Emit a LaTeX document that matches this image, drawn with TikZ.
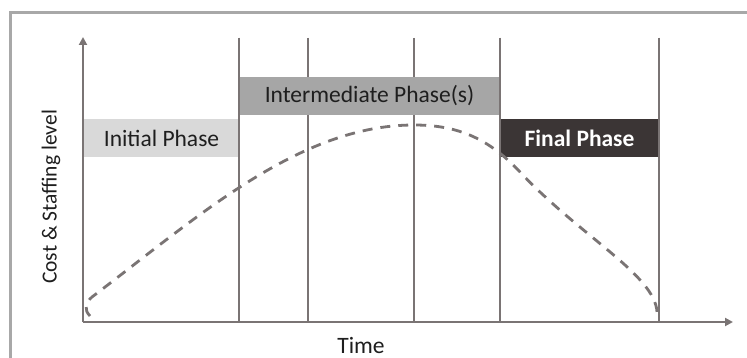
\documentclass[tikz,border=0pt]{standalone}
\usepackage{fontspec}
\setmainfont{Carlito}
\usetikzlibrary{arrows.meta}
\definecolor{axisgray}{HTML}{7A7474}
\definecolor{framegray}{HTML}{A8A8A8}
\definecolor{initfill}{HTML}{D9D9D9}
\definecolor{midfill}{HTML}{A6A6A6}
\definecolor{finalfill}{HTML}{3B3535}
\definecolor{labeltext}{HTML}{1E1E1E}
\begin{document}
\begin{tikzpicture}[x=1pt,y=-1pt,
  labelfont/.style={font=\fontsize{23.5pt}{26pt}\selectfont},
  frameline/.style={draw=framegray,line width=3pt},
  phaseline/.style={draw=axisgray,line width=2.9pt},
  axisline/.style={draw=axisgray,line width=2.9pt,-{Triangle[length=8pt,width=8pt]}},
  phasebox/.style={labelfont,minimum height=38pt,inner sep=0pt,anchor=center,text=labeltext},
  effortcurve/.style={draw=axisgray,line width=2.8pt,dash pattern=on 10pt off 8pt}]
\useasboundingbox (0,0) rectangle (747,358);
\fill[white] (0,0) rectangle (747,358);

% outer frame (open towards right and bottom)
\coordinate (fbl) at (10,358);
\coordinate (ftl) at (10,13);
\coordinate (ftr) at (747,13);
\draw[frameline] (fbl) -- (ftl) -- (ftr);

% phase boundaries
\foreach \x/\n in {239/a,308/b,414/c,500/d,659/e}{
  \coordinate (top\n) at (\x,38);
  \coordinate (bot\n) at (\x,322);
  \draw[phaseline] (top\n) -- (bot\n);
}

% phase bars
\node[phasebox,fill=initfill,minimum width=155pt] (initial) at (161.5,138) {Initial Phase};
\node[phasebox,fill=midfill,minimum width=261pt] (inter) at (369.5,96) {Intermediate Phase(s)};
\node[phasebox,fill=finalfill,minimum width=159pt,text=white,font=\fontsize{23.5pt}{26pt}\selectfont\bfseries] (final) at (579.5,138) {Final Phase};

% redraw the bar edges on top
\draw[phaseline] (topa) -- (bota);
\draw[phaseline] (topd) -- (botd);
\draw[phaseline] (tope) -- (bote);

% staffing curve
\coordinate (c0) at (90,316);
\coordinate (c1) at (92,297);
\coordinate (peak) at (414,125);
\coordinate (c2) at (520,172);
\coordinate (c3) at (657,312);
\draw[effortcurve] (c0) .. controls (84,310) and (85,303) .. (c1)
  .. controls (200,215) and (300,125) .. (peak)
  .. controls (460,125) and (490,140) .. (c2)
  .. controls (580,236) and (655,275) .. (c3);

% axes
\coordinate (origin) at (83,322);
\coordinate (ytip) at (83,37);
\coordinate (xtip) at (733,322);
\draw[axisline] (origin) -- (ytip);
\draw[axisline] (origin) -- (xtip);

% axis titles
\node[labelfont,text=labeltext] (timelabel) at (361,345) {Time};
\node[font=\fontsize{21.5pt}{24pt}\selectfont,text=labeltext,rotate=90] (costlabel) at (51,197) {Cost \& Staffing level};
\end{tikzpicture}
\end{document}
